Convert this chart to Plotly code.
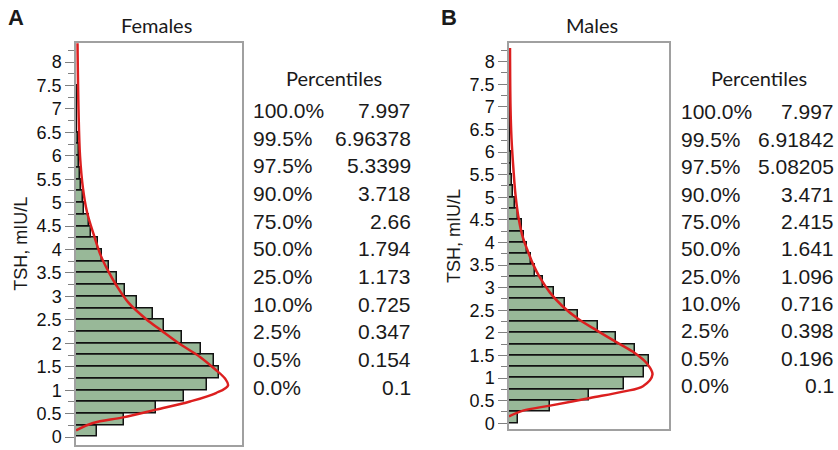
import plotly.graph_objects as go

# ---------------- data ----------------
bin_centers = [0.125 + 0.25 * i for i in range(32)]  # TSH bins (width 0.25)
bin_width = 0.25

female_counts = [21, 48, 80, 108, 131, 143, 138, 125, 106, 88, 77, 61, 49, 40.5, 33, 26,
                 21.5, 15, 13, 8, 6.5, 5, 4, 3, 2.5, 1.5, 1, 1, 0.6, 0.5, 0.4, 0.4]
male_counts = [9, 41, 80, 115, 135, 140, 126, 107, 89, 69, 56, 45, 34, 26, 22, 18,
               15, 13, 9, 6, 3.5, 2.5, 2, 1.5, 1.2, 1, 0.8, 0.7, 0.5, 0.5, 0.4, 0.4]

# fitted density curve (density, TSH)
female_fit_x = [0, 17, 47, 80, 114, 140, 152, 149, 140, 124, 105, 85, 70, 52, 40, 32, 25, 18, 11, 7, 4, 2.5, 1.5]
female_fit_y = [0.14, 0.30, 0.42, 0.585, 0.76, 0.94, 1.1, 1.25, 1.43, 1.71, 1.97, 2.28, 2.52, 2.88, 3.25, 3.55,
                3.86, 4.3, 4.8, 5.3, 6.0, 7.0, 8.4]
male_fit_x = [0, 14, 41, 81, 114, 134, 143.5, 138, 124, 107, 88, 69, 53, 41, 31, 24, 19, 14, 9.5, 6.5, 4.5, 2.5, 1.5, 1]
male_fit_y = [0.15, 0.28, 0.39, 0.56, 0.70, 0.82, 1.08, 1.32, 1.58, 1.80, 2.05, 2.31, 2.60, 2.89, 3.22, 3.52,
              3.8, 4.1, 4.55, 5.05, 5.6, 6.3, 7.0, 8.3]

pct_labels = ["100.0%", "99.5%", "97.5%", "90.0%", "75.0%", "50.0%", "25.0%", "10.0%", "2.5%", "0.5%", "0.0%"]
female_pct = ["7.997", "6.96378", "5.3399", "3.718", "2.66", "1.794", "1.173", "0.725", "0.347", "0.154", "0.1"]
male_pct = ["7.997", "6.91842", "5.08205", "3.471", "2.415", "1.641", "1.096", "0.716", "0.398", "0.196", "0.1"]

panel_titles = ["Females", "Males"]
panel_letters = ["A", "B"]
y_title = "TSH, mIU/L"

# ---------------- layout helpers ----------------
W, H = 838, 450
def fx(p):
    return p / W
def fy(p):
    return 1 - p / H

BAR_FILL = "#98b898"
CURVE = "#dc1f1f"
TEXT = "#1a1a1a"
BORDER = "#a0a0a0"

fig = go.Figure()

fig.add_trace(go.Bar(y=bin_centers, x=female_counts, orientation="h", width=bin_width,
                     marker=dict(color=BAR_FILL, line=dict(color="#111", width=1.5)),
                     xaxis="x", yaxis="y", showlegend=False, hoverinfo="skip"))
fig.add_trace(go.Scatter(x=female_fit_x, y=female_fit_y, mode="lines",
                         line=dict(color=CURVE, width=2.5, shape="spline", smoothing=1.0),
                         xaxis="x", yaxis="y", showlegend=False, hoverinfo="skip"))
fig.add_trace(go.Bar(y=bin_centers, x=male_counts, orientation="h", width=bin_width,
                     marker=dict(color=BAR_FILL, line=dict(color="#111", width=1.5)),
                     xaxis="x2", yaxis="y2", showlegend=False, hoverinfo="skip"))
fig.add_trace(go.Scatter(x=male_fit_x, y=male_fit_y, mode="lines",
                         line=dict(color=CURVE, width=2.5, shape="spline", smoothing=1.0),
                         xaxis="x2", yaxis="y2", showlegend=False, hoverinfo="skip"))

def xax(domain, rng, anchor):
    return dict(domain=domain, range=rng, anchor=anchor, showgrid=False, zeroline=False,
                showticklabels=False, ticks="", showline=True, linecolor=BORDER, linewidth=1.5,
                mirror=True, fixedrange=True)

def yax(domain, rng, anchor):
    return dict(domain=domain, range=rng, anchor=anchor, showgrid=False, zeroline=False,
                tick0=0, dtick=0.5, ticks="outside", ticklen=9, tickwidth=1.3, tickcolor="#808080",
                tickfont=dict(family="Liberation Sans, Arial", size=18, color="#111"),
                minor=dict(dtick=0.25, tick0=0, ticks="outside", ticklen=6, tickwidth=1.3,
                           tickcolor="#808080", showgrid=False),
                showline=True, linecolor=BORDER, linewidth=1.5, mirror=True, fixedrange=True,
                title=dict(text=y_title, font=dict(family="Liberation Sans, Arial", size=18, color=TEXT),
                           standoff=4))

fig.update_layout(
    width=W, height=H, margin=dict(l=0, r=0, t=0, b=0),
    paper_bgcolor="white", plot_bgcolor="white",
    bargap=0,
    xaxis=xax([fx(76), fx(242)], [0, 166], "y"),
    yaxis=yax([fy(449), fy(43)], [-0.169, 8.414], "x"),
    xaxis2=xax([fx(509), fx(669)], [0, 160], "y2"),
    yaxis2=yax([fy(433), fy(43)], [-0.13, 8.42], "x2"),
)

ann = []
# panel letters and titles
for letter, lx in zip(panel_letters, [16, 449]):
    ann.append(dict(text="<b>%s</b>" % letter, x=fx(lx), y=fy(18), xref="paper", yref="paper",
                    showarrow=False, xanchor="center", yanchor="middle",
                    font=dict(family="Liberation Sans, Arial", size=22, color=TEXT)))
for title, tx in zip(panel_titles, [156, 592]):
    ann.append(dict(text=title, x=fx(tx), y=fy(25), xref="paper", yref="paper",
                    showarrow=False, xanchor="center", yanchor="middle",
                    font=dict(family="Lato, Open Sans", size=20, color=TEXT)))

# percentile tables
tables = [(female_pct, 251, 413, 334, 111.5, 27.9), (male_pct, 679, 836, 759, 113, 27.6)]
for vals, left_x, right_x, head_x, row0, step in tables:
    ann.append(dict(text="Percentiles", x=fx(head_x), y=fy(79), xref="paper", yref="paper",
                    showarrow=False, xanchor="center", yanchor="middle",
                    font=dict(family="Lato, Open Sans", size=20, color=TEXT)))
    for i, (lab, v) in enumerate(zip(pct_labels, vals)):
        yy = fy(row0 + i * step)
        ann.append(dict(text=lab, x=fx(left_x), y=yy, xref="paper", yref="paper",
                        showarrow=False, xanchor="left", yanchor="middle",
                        font=dict(family="Liberation Sans, Arial", size=21, color=TEXT)))
        ann.append(dict(text=v, x=fx(right_x), y=yy, xref="paper", yref="paper",
                        showarrow=False, xanchor="right", yanchor="middle",
                        font=dict(family="Liberation Sans, Arial", size=21, color=TEXT)))

fig.update_layout(annotations=ann)
fig.write_html("out.html")
